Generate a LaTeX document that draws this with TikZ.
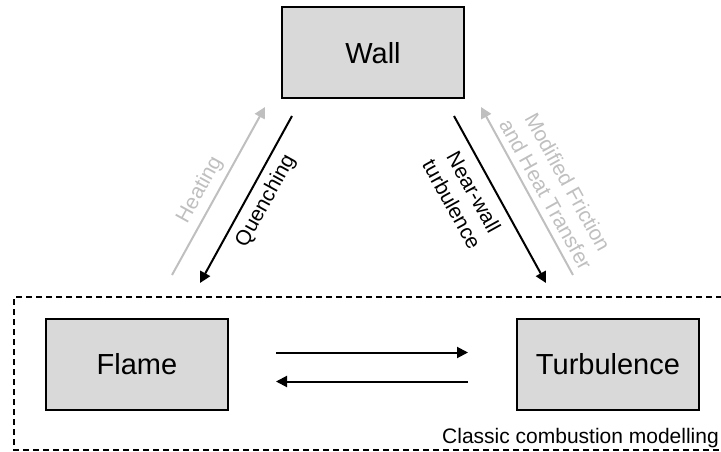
\documentclass[tikz,border=0pt]{standalone}
\usepackage{fontspec}
\setmainfont{Liberation Sans}
\usetikzlibrary{arrows.meta}
\definecolor{boxfill}{RGB}{217,217,217}
\definecolor{lightarrow}{RGB}{191,191,191}
\begin{document}
\begin{tikzpicture}[x=1pt,y=-1pt,
  blockbox/.style={draw=black, line width=2pt, fill=boxfill, minimum width=182pt, minimum height=91pt, inner sep=0pt, font=\fontsize{29}{34}\selectfont},
  darkarrow/.style={draw=black, line width=2pt, -{Triangle[length=11pt,width=11pt]}},
  palearrow/.style={draw=lightarrow, line width=2pt, -{Triangle[length=11pt,width=11pt]}},
  smalllabel/.style={font=\fontsize{21}{25}\selectfont, align=center, inner sep=0pt},
  groupframe/.style={draw=black, line width=1.3pt, dash pattern=on 6pt off 4pt}
]
\useasboundingbox (0,0) rectangle (721,452);

% boxes
\node[blockbox] (wall) at (373,53) {Wall};
\node[blockbox] (flame) at (137,364) {Flame};
\node[blockbox] (turb) at (608,364) {Turbulence};

% dashed group frame (open at the right, cut by the page edge)
\coordinate (fr1) at (722,297);
\coordinate (fr2) at (14,297);
\coordinate (fr3) at (14,450);
\coordinate (fr4) at (722,450);
\draw[groupframe] (fr1) -- (fr2) -- (fr3) -- (fr4);
\node[anchor=base east, font=\fontsize{21}{25}\selectfont, inner sep=0pt] (cls) at (719,443) {Classic combustion modelling};

% horizontal arrows
\draw[darkarrow] ([xshift=47pt,yshift=11.5pt]flame.east) -- ([xshift=-48pt,yshift=11.5pt]turb.west);
\draw[darkarrow] ([xshift=-48pt,yshift=-17.5pt]turb.west) -- ([xshift=47pt,yshift=-17.5pt]flame.east);

% diagonal arrow end points
\coordinate (hs) at (172,275);
\coordinate (he) at (265,107);
\coordinate (qs) at (292,116);
\coordinate (qe) at (200,283);
\coordinate (ns) at (454,116);
\coordinate (ne) at (546,283);
\coordinate (ms) at (573,275);
\coordinate (me) at (481,107);

\draw[palearrow] (hs) -- (he);
\draw[darkarrow] (qs) -- (qe);
\draw[darkarrow] (ns) -- (ne);
\draw[palearrow] (ms) -- (me);

% labels
\node[smalllabel, text=lightarrow, rotate=61] (heat) at (200,190) {Heating};
\node[smalllabel, rotate=61] (quench) at (266,201) {Quenching};
\node[smalllabel, rotate=-61] (nearw) at (463,198) {Near-wall\\turbulence};
\node[smalllabel, text=lightarrow, rotate=-61] (modf) at (557,188) {Modified Friction\\and Heat Transfer};
\end{tikzpicture}
\end{document}
